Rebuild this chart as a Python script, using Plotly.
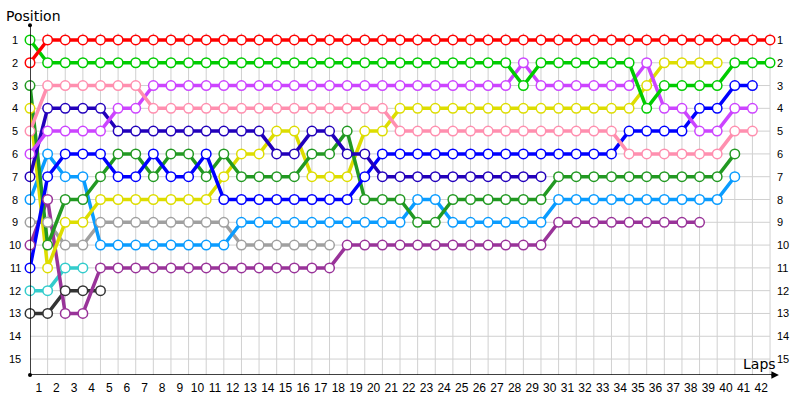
import plotly.graph_objects as go

# laps 0 (grid) .. 42
laps = list(range(0, 43))
lap_labels = [str(k) for k in range(1, 43)]
positions = list(range(1, 16))

N = None
#           L0  L1-L10                          L11-L20                         L21-L30                          L31-L40                         L41 L42
red       = [2,  1,1,1,1,1,1,1,1,1,1,           1,1,1,1,1,1,1,1,1,1,            1,1,1,1,1,1,1,1,1,1,             1,1,1,1,1,1,1,1,1,1,            1,1]
green     = [1,  2,2,2,2,2,2,2,2,2,2,           2,2,2,2,2,2,2,2,2,2,            2,2,2,2,2,2,2,3,2,2,             2,2,2,2,4,3,3,3,3,2,            2,2]
pink      = [5,  3,3,3,3,3,3,4,4,4,4,           4,4,4,4,4,4,4,4,4,4,            5,5,5,5,5,5,5,5,5,5,             5,5,5,6,6,6,6,6,6,5,            5,N]
magenta   = [6,  5,5,5,5,4,4,3,3,3,3,           3,3,3,3,3,3,3,3,3,3,            3,3,3,3,3,3,3,2,3,3,             3,3,3,3,2,4,4,5,5,4,            4,N]
indigo    = [7,  4,4,4,4,5,5,5,5,5,5,           5,5,5,6,6,5,5,6,6,7,            7,7,7,7,7,7,7,7,7,N,             N,N,N,N,N,N,N,N,N,N,            N,N]
blue      = [11, 7,6,6,6,7,7,6,7,7,6,           8,8,8,8,8,8,8,8,7,6,            6,6,6,6,6,6,6,6,6,6,             6,6,6,5,5,5,5,4,4,3,            3,N]
dkgreen   = [3,  10,8,8,7,6,6,7,6,6,7,          6,7,7,7,7,6,6,5,8,8,            8,9,9,8,8,8,8,8,8,7,             7,7,7,7,7,7,7,7,7,6,            N,N]
yellow    = [4,  11,9,9,8,8,8,8,8,8,8,          7,6,6,5,5,7,7,7,5,5,            4,4,4,4,4,4,4,4,4,4,             4,4,4,4,3,2,2,2,2,N,            N,N]
lightblue = [8,  6,7,7,10,10,10,10,10,10,10,    10,9,9,9,9,9,9,9,9,9,           9,8,8,9,9,9,9,9,9,8,             8,8,8,8,8,8,8,8,8,7,            N,N]
gray      = [9,  9,10,10,9,9,9,9,9,9,9,         9,10,10,10,10,10,10,N,N,N,      N,N,N,N,N,N,N,N,N,N,             N,N,N,N,N,N,N,N,N,N,            N,N]
purple    = [10, 8,13,13,11,11,11,11,11,11,11,  11,11,11,11,11,11,11,10,10,10,  10,10,10,10,10,10,10,10,10,9,    9,9,9,9,9,9,9,9,N,N,            N,N]
cyan      = [12, 12,11,11,N,N,N,N,N,N,N,        N,N,N,N,N,N,N,N,N,N,            N,N,N,N,N,N,N,N,N,N,             N,N,N,N,N,N,N,N,N,N,            N,N]
black     = [13, 13,12,12,12,N,N,N,N,N,N,       N,N,N,N,N,N,N,N,N,N,            N,N,N,N,N,N,N,N,N,N,             N,N,N,N,N,N,N,N,N,N,            N,N]

series = [
    ("black", black, "#333333"),
    ("cyan", cyan, "#33cccc"),
    ("gray", gray, "#a0a0a0"),
    ("purple", purple, "#993399"),
    ("lightblue", lightblue, "#0a9cff"),
    ("yellow", yellow, "#dddd00"),
    ("dkgreen", dkgreen, "#229922"),
    ("blue", blue, "#0000ff"),
    ("indigo", indigo, "#2200bb"),
    ("magenta", magenta, "#cc44ff"),
    ("pink", pink, "#ff8faf"),
    ("green", green, "#00cc00"),
    ("red", red, "#ff0000"),
]

fig = go.Figure()

# grid lines
GRID = "#d0d0d0"
shapes = []
for p in positions:
    shapes.append(dict(type="line", xref="x", yref="y", x0=laps[0], x1=laps[-1], y0=p, y1=p,
                       line=dict(color=GRID, width=1), layer="below"))
for l in laps[1:]:
    shapes.append(dict(type="line", xref="x", yref="y", x0=l, x1=l, y0=0.7, y1=15.7,
                       line=dict(color=GRID, width=1), layer="below"))
# axes
shapes.append(dict(type="line", xref="x", yref="y", x0=0, x1=0, y0=0.35, y1=15.7,
                   line=dict(color="black", width=1.5)))
shapes.append(dict(type="line", xref="x", yref="y", x0=0, x1=42.4, y0=15.7, y1=15.7,
                   line=dict(color="black", width=1.5)))

for name, vals, col in series:
    fig.add_trace(go.Scatter(x=laps, y=vals, mode="lines", name=name,
                             line=dict(color=col, width=3.5), connectgaps=False,
                             hoverinfo="skip", showlegend=False))
for name, vals, col in series:
    fig.add_trace(go.Scatter(x=laps, y=vals, mode="markers", name=name,
                             marker=dict(size=9.5, color="white", line=dict(color=col, width=1.5)),
                             showlegend=False, cliponaxis=False))

# axis end dots
fig.add_trace(go.Scatter(x=[0, 0], y=[0.35, 15.7], mode="markers",
                         marker=dict(size=4, color="black"), showlegend=False,
                         cliponaxis=False, hoverinfo="skip"))

annotations = []
for p in positions:
    annotations.append(dict(x=0, y=p, xref="paper", yref="y", text=str(p), showarrow=False,
                            xshift=-15, xanchor="center", yanchor="middle",
                            font=dict(family="Liberation Sans", size=11, color="black")))
    annotations.append(dict(x=laps[-1], y=p, xref="x", yref="y", text=str(p), showarrow=False,
                            xshift=5, xanchor="left", yanchor="middle",
                            font=dict(family="Liberation Sans", size=11, color="black")))
annotations.append(dict(x=0, y=1, xref="paper", yref="paper", text="Position", showarrow=False,
                        xshift=-26, yshift=8, xanchor="left", yanchor="middle",
                        font=dict(family="DejaVu Sans", size=14, color="black")))
annotations.append(dict(x=42.45, y=15.7, xref="x", yref="y", text="Laps", showarrow=False,
                        xanchor="right", yanchor="bottom", yshift=1,
                        font=dict(family="DejaVu Sans", size=14, color="black")))
annotations.append(dict(x=42.5, y=15.7, xref="x", yref="y", ax=-9, ay=0, text="",
                        showarrow=True, arrowhead=2, arrowsize=1, arrowwidth=1.5,
                        arrowcolor="black"))

fig.update_layout(
    width=800, height=400,
    margin=dict(l=30, r=20, t=24, b=25),
    plot_bgcolor="white", paper_bgcolor="white",
    shapes=shapes, annotations=annotations,
    xaxis=dict(range=[0, 750 / 17.62], showgrid=False, zeroline=False, showline=False,
               tickmode="array", tickvals=[k - 0.5 for k in range(1, 43)], ticktext=lap_labels,
               ticks="", ticklabelstandoff=4,
               tickfont=dict(family="Liberation Sans", size=12, color="black"),
               automargin=False),
    yaxis=dict(range=[15.7, 0.3], showgrid=False, zeroline=False, showline=False,
               showticklabels=False, automargin=False),
    hovermode=False,
)

fig.write_html("out.html", config={"displayModeBar": False},
               post_script="document.body.style.margin='0px';")
